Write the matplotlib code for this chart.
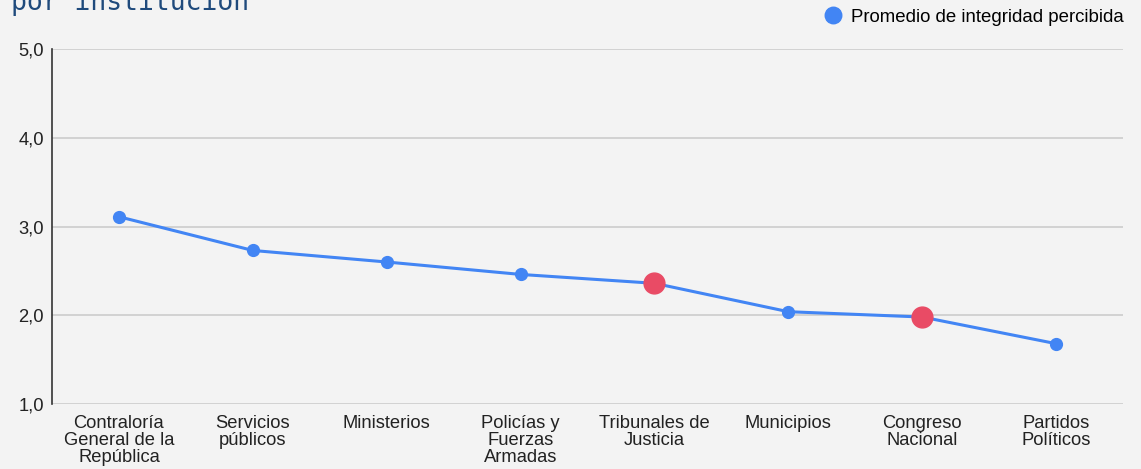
import numpy as np
import matplotlib.pyplot as plt

instituciones = ["Contraloría\nGeneral de la\nRepública", "Servicios\npúblicos", "Ministerios",
                 "Policías y\nFuerzas\nArmadas", "Tribunales de\nJusticia", "Municipios",
                 "Congreso\nNacional", "Partidos\nPolíticos"]
promedio = [3.11, 2.73, 2.60, 2.46, 2.36, 2.04, 1.98, 1.68]
destacados = [4, 6]
yticks = [1.0, 2.0, 3.0, 4.0, 5.0]

plt.rcParams['font.family'] = ['Liberation Sans', 'DejaVu Sans']

fig = plt.figure(figsize=(11.41, 4.69), dpi=100, facecolor='#f3f3f3')
ax = fig.add_axes([52 / 1141, 1 - 404 / 469, (1123 - 52) / 1141, (404 - 49) / 469])
ax.set_facecolor('#f3f3f3')

x = np.arange(len(promedio))
ax.plot(x, promedio, color='#4285f4', lw=2.2, marker='o', ms=8.5, zorder=3,
        label='Promedio de integridad percibida')
ax.plot(x[destacados], [promedio[i] for i in destacados], 'o', color='#e94b65',
        ms=15, zorder=4)

ax.set_xlim(-0.5, len(promedio) - 0.5)
ax.set_ylim(1, 5)
ax.set_yticks(yticks)
ax.set_yticklabels([f"{v:.1f}".replace('.', ',') for v in yticks])
ax.set_xticks(x)
ax.set_xticklabels(instituciones, linespacing=1.0)
ax.grid(axis='y', color='#cccccc', lw=1.2)
ax.set_axisbelow(True)
for s in ['top', 'right', 'bottom']:
    ax.spines[s].set_visible(False)
ax.spines['left'].set_color('#333333')
ax.spines['left'].set_linewidth(1.2)
ax.tick_params(axis='both', length=0, labelsize=13.2, colors='#222222')
ax.tick_params(axis='x', pad=8)
ax.tick_params(axis='y', pad=6)

# legend
ax.legend(loc='upper right', bbox_to_anchor=(1.016, 1.16), frameon=False, fontsize=13.4,
          handlelength=0.8, handletextpad=0.55, markerscale=1.4)
leg = ax.get_legend()
for h in leg.get_lines():
    h.set_linestyle('none')

fig.text(11 / 1141, 1 - 10 / 469, "por institución", family='DejaVu Sans Mono',
         fontsize=19, color='#1f4a7c', va='baseline', ha='left')

fig.savefig('out.png', dpi=100, facecolor=fig.get_facecolor())
